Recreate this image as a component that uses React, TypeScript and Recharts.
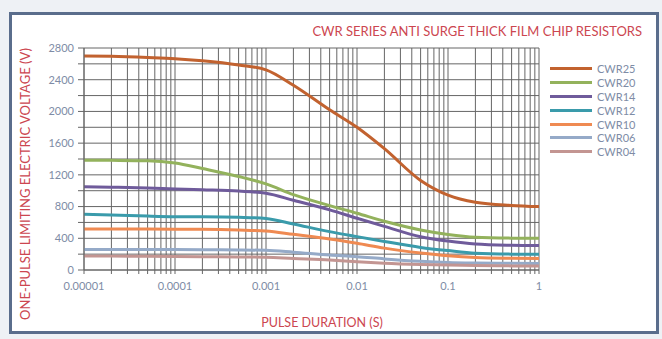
import React from "react";
import { LineChart, Line, XAxis, YAxis, CartesianGrid } from "recharts";

const durations = [0.00001, 0.00002, 0.00005, 0.0001, 0.0002, 0.0005, 0.001, 0.002, 0.005, 0.01, 0.02, 0.05, 0.1, 0.2, 0.5, 1];

const cwr25 = [2700, 2695, 2680, 2665, 2638, 2585, 2525, 2330, 2020, 1800, 1530, 1130, 945, 855, 815, 800];
const cwr20 = [1385, 1383, 1378, 1350, 1280, 1180, 1086, 950, 812, 716, 615, 505, 448, 413, 402, 400];
const cwr14 = [1050, 1045, 1035, 1023, 1012, 995, 968, 880, 758, 653, 550, 420, 365, 328, 312, 308];
const cwr12 = [703, 695, 680, 673, 672, 665, 650, 580, 484, 421, 360, 285, 245, 212, 200, 198];
const cwr10 = [518, 517, 516, 514, 513, 505, 492, 450, 392, 337, 276, 215, 180, 158, 148, 145];
const cwr06 = [258, 258, 258, 258, 255, 253, 248, 225, 189, 168, 140, 110, 95, 88, 84, 82];
const cwr04 = [177, 175, 172, 170, 168, 165, 160, 145, 126, 105, 86, 70, 62, 56, 52, 50];

const seriesNames = ["CWR25", "CWR20", "CWR14", "CWR12", "CWR10", "CWR06", "CWR04"];
const seriesValues = [cwr25, cwr20, cwr14, cwr12, cwr10, cwr06, cwr04];
const seriesColors = ["#c2622f", "#93b25c", "#6f5b9b", "#3a9bab", "#ef8a52", "#95aac8", "#c39592"];

const xTicks = [
  0.00001, 0.00002, 0.00003, 0.00004, 0.00005, 0.00006, 0.00007, 0.00008, 0.00009,
  0.0001, 0.0002, 0.0003, 0.0004, 0.0005, 0.0006, 0.0007, 0.0008, 0.0009,
  0.001, 0.002, 0.003, 0.004, 0.005, 0.006, 0.007, 0.008, 0.009,
  0.01, 0.02, 0.03, 0.04, 0.05, 0.06, 0.07, 0.08, 0.09,
  0.1, 0.2, 0.3, 0.4, 0.5, 0.6, 0.7, 0.8, 0.9,
  1,
];
const xLabels: Record<string, string> = {
  "0.00001": "0.00001",
  "0.0001": "0.0001",
  "0.001": "0.001",
  "0.01": "0.01",
  "0.1": "0.1",
  "1": "1",
};
const yTicks = [0, 200, 400, 600, 800, 1000, 1200, 1400, 1600, 1800, 2000, 2200, 2400, 2600, 2800];

const title = "CWR SERIES ANTI SURGE THICK FILM CHIP RESISTORS";
const xTitle = "PULSE DURATION (S)";
const yTitle = "ONE-PULSE LIMITING ELECTRIC VOLTAGE (V)";

const data = durations.map((d, i) => {
  const row: Record<string, number> = { t: d };
  seriesNames.forEach((n, k) => {
    row[n] = seriesValues[k][i];
  });
  return row;
});

const FONT = "Lato, 'Open Sans', sans-serif";
const TICK_COLOR = "#7e8ca6";
const RED = "#cc4650";
const GRID = "#666666";

export default function App() {
  return (
    <div style={{ position: "fixed", left: 0, top: 0, width: 662, height: 339, background: "#eef1f5", overflow: "hidden" }}>
      <div
        style={{
          position: "absolute",
          left: 9,
          top: 12,
          width: 644,
          height: 316,
          border: "3px solid #5a6d8c",
          background: "#ffffff",
        }}
      />
      <div
        style={{
          position: "absolute",
          right: 20,
          top: 23,
          fontFamily: FONT,
          fontSize: 13,
          color: RED,
          whiteSpace: "nowrap",
        }}
      >
        {title}
      </div>
      <div
        style={{
          position: "absolute",
          left: 322,
          top: 315,
          transform: "translateX(-50%)",
          fontFamily: FONT,
          fontSize: 12.5,
          color: RED,
          whiteSpace: "nowrap",
        }}
      >
        {xTitle}
      </div>
      <div
        style={{
          position: "absolute",
          left: 25,
          top: 184,
          transform: "translate(-50%, -50%) rotate(-90deg)",
          fontFamily: FONT,
          fontSize: 13,
          color: RED,
          whiteSpace: "nowrap",
        }}
      >
        {yTitle}
      </div>
      <div style={{ position: "absolute", left: 550, top: 62, fontFamily: FONT }}>
        {seriesNames.map((n, i) => (
          <div key={n} style={{ display: "flex", alignItems: "center", height: 13.8 }}>
            <div style={{ width: 42, height: 3, background: seriesColors[i], marginRight: 5 }} />
            <span style={{ fontSize: 11, color: TICK_COLOR, lineHeight: "13px" }}>{n}</span>
          </div>
        ))}
      </div>
      <div style={{ position: "absolute", left: 0, top: 0 }}>
        <LineChart width={662} height={339} data={data} margin={{ top: 48, right: 123, bottom: 39, left: 24 }}>
          <CartesianGrid stroke={GRID} strokeWidth={1} />
          <XAxis
            dataKey="t"
            type="number"
            scale="log"
            domain={[0.00001, 1]}
            ticks={xTicks}
            interval={0}
            allowDataOverflow
            height={30}
            stroke={GRID}
            tickSize={4}
            tickLine={{ stroke: GRID }}
            tick={{ fill: TICK_COLOR, fontSize: 11, fontFamily: FONT }}
            tickFormatter={(v: number) => xLabels[String(v)] ?? ""}
            tickMargin={8}
          />
          <YAxis
            type="number"
            domain={[0, 2800]}
            ticks={yTicks}
            interval={0}
            width={60}
            stroke={GRID}
            tickSize={6}
            tickLine={{ stroke: GRID }}
            tick={{ fill: TICK_COLOR, fontSize: 11, fontFamily: FONT }}
            tickFormatter={(v: number) => (v % 400 === 0 ? String(v) : "")}
            tickMargin={4}
          />
          {seriesNames.map((n, i) => (
            <Line
              key={n}
              type="monotone"
              dataKey={n}
              stroke={seriesColors[i]}
              strokeWidth={3}
              dot={false}
              isAnimationActive={false}
            />
          ))}
        </LineChart>
      </div>
    </div>
  );
}
